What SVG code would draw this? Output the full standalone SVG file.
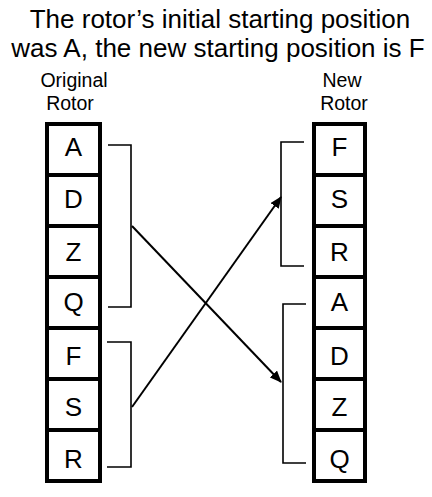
<svg xmlns="http://www.w3.org/2000/svg" width="432" height="497" viewBox="0 0 432 497">
<style>
text{font-family:"Liberation Sans",Arial,sans-serif;fill:#000}
.title{font-size:26px;text-anchor:middle}
.lbl{font-size:19.5px;text-anchor:middle}
.cell rect{fill:#fff;stroke:#000;stroke-width:4}
.cell text{font-size:26px;text-anchor:middle}
.br{fill:none;stroke:#000;stroke-width:1.6}
.arr{fill:none;stroke:#000;stroke-width:2}
</style>
<defs>
<marker id="ah" viewBox="0 0 12 10" refX="11" refY="5" markerWidth="12" markerHeight="10" markerUnits="userSpaceOnUse" orient="auto">
<path d="M0,0 L12,5 L0,10 Z" fill="#000"/>
</marker>
</defs>
<rect width="432" height="497" fill="#fff"/>
<g id="title">
<text class="title" x="220" y="28">The rotor’s initial starting position</text>
<text class="title" x="218" y="57">was A, the new starting position is F</text>
</g>
<g id="label-original">
<text class="lbl" x="74" y="87">Original</text>
<text class="lbl" x="70" y="110">Rotor</text>
</g>
<g id="label-new">
<text class="lbl" x="342" y="87">New</text>
<text class="lbl" x="344" y="110">Rotor</text>
</g>
<g id="original-rotor" class="cell">
<g id="o-A"><rect x="47" y="124" width="53" height="51"/><text x="73.5" y="156">A</text></g>
<g id="o-D"><rect x="47" y="175" width="53" height="51"/><text x="73.5" y="208">D</text></g>
<g id="o-Z"><rect x="47" y="226" width="53" height="51"/><text x="73.5" y="261">Z</text></g>
<g id="o-Q"><rect x="47" y="277" width="53" height="51"/><text x="73.5" y="311">Q</text></g>
<g id="o-F"><rect x="47" y="328" width="53" height="51"/><text x="73.5" y="365">F</text></g>
<g id="o-S"><rect x="47" y="379" width="53" height="51"/><text x="73.5" y="416">S</text></g>
<g id="o-R"><rect x="47" y="430" width="53" height="51"/><text x="73.5" y="468">R</text></g>
</g>
<g id="new-rotor" class="cell">
<g id="n-F"><rect x="314" y="124" width="51" height="51"/><text x="339.5" y="156">F</text></g>
<g id="n-S"><rect x="314" y="175" width="51" height="51"/><text x="339.5" y="208">S</text></g>
<g id="n-R"><rect x="314" y="226" width="51" height="51"/><text x="339.5" y="261">R</text></g>
<g id="n-A"><rect x="314" y="277" width="51" height="51"/><text x="339.5" y="311">A</text></g>
<g id="n-D"><rect x="314" y="328" width="51" height="51"/><text x="339.5" y="365">D</text></g>
<g id="n-Z"><rect x="314" y="379" width="51" height="51"/><text x="339.5" y="416">Z</text></g>
<g id="n-Q"><rect x="314" y="430" width="51" height="51"/><text x="339.5" y="468">Q</text></g>
</g>
<g id="connectors">
<path class="br" d="M108,145 H131 V307 H108"/>
<path class="br" d="M107,342 H131 V467 H107"/>
<path class="br" d="M304,142 H281 V266 H304"/>
<path class="br" d="M306,304 H283 V463 H306"/>
<line class="arr" x1="132" y1="226" x2="281" y2="382" marker-end="url(#ah)"/>
<line class="arr" x1="132" y1="407" x2="281" y2="197" marker-end="url(#ah)"/>
</g>
</svg>
